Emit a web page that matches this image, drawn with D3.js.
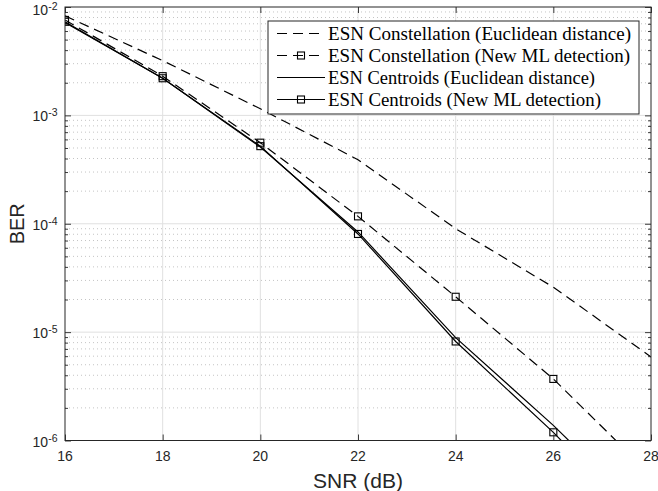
<!DOCTYPE html>
<html>
<head>
<meta charset="utf-8">
<script src="https://cdn.jsdelivr.net/npm/d3@7"></script>
<style>
  html, body { margin: 0; padding: 0; background: #fff; }
  svg { display: block; }
</style>
</head>
<body>
<svg id="chart" width="658" height="491"></svg>
<script>
// SNR points (dB) and BER curves for the four receivers
const snr = [16, 18, 20, 22, 24, 26, 28];
const berConstEuclid = [8.3e-3, 3.2e-3, 1.15e-3, 3.9e-4, 9.0e-5, 2.6e-5, 5.9e-6];
const berConstML     = [7.6e-3, 2.3e-3, 5.6e-4, 1.17e-4, 2.12e-5, 3.7e-6, 4.8e-7];
const berCentEuclid  = [7.2e-3, 2.2e-3, 5.1e-4, 8.4e-5, 8.9e-6, 1.38e-6, 1.8e-7];
const berCentML      = [7.3e-3, 2.2e-3, 5.2e-4, 8.05e-5, 8.2e-6, 1.19e-6, 1.4e-7];

const seriesNames = [
  "ESN Constellation (Euclidean distance)",
  "ESN Constellation (New ML detection)",
  "ESN Centroids (Euclidean distance)",
  "ESN Centroids (New ML detection)"
];
const xTicks = [16, 18, 20, 22, 24, 26, 28];
const yDecades = [-6, -5, -4, -3, -2];
const xLabel = "SNR (dB)";
const yLabel = "BER";

const series = [
  { name: seriesNames[0], values: berConstEuclid, dashed: true,  marker: false },
  { name: seriesNames[1], values: berConstML,     dashed: true,  marker: true  },
  { name: seriesNames[2], values: berCentEuclid,  dashed: false, marker: false },
  { name: seriesNames[3], values: berCentML,      dashed: false, marker: true  }
];

const svg = d3.select("#chart");
const L = 65, R = 651, T = 7, B = 440.5;
const x = d3.scaleLinear().domain([16, 28]).range([L, R]);
const y = d3.scaleLog().domain([1e-6, 1e-2]).range([B, T]);

const axisColor = "#262626";
const dashPattern = "10,6";

// grid
const grid = svg.append("g");
const minorVals = [];
for (let d = -6; d < -2; d++) {
  for (let k = 2; k <= 9; k++) minorVals.push(k * Math.pow(10, d));
}
grid.selectAll("line.minor").data(minorVals).join("line")
  .attr("x1", L).attr("x2", R)
  .attr("y1", d => y(d)).attr("y2", d => y(d))
  .attr("stroke", "#c4c4c4").attr("stroke-width", 1)
  .attr("stroke-dasharray", "1,3");
grid.selectAll("line.ymaj").data(yDecades.slice(1, -1)).join("line")
  .attr("x1", L).attr("x2", R)
  .attr("y1", d => y(Math.pow(10, d))).attr("y2", d => y(Math.pow(10, d)))
  .attr("stroke", "#e0e0e0").attr("stroke-width", 1);
grid.selectAll("line.xmaj").data(xTicks.slice(1, -1)).join("line")
  .attr("class", "xmaj")
  .attr("x1", d => x(d)).attr("x2", d => x(d))
  .attr("y1", T).attr("y2", B)
  .attr("stroke", "#e0e0e0").attr("stroke-width", 1);

// curves
svg.append("defs").append("clipPath").attr("id", "plotClip")
  .append("rect").attr("x", L).attr("y", T).attr("width", R - L).attr("height", B - T);
const plot = svg.append("g").attr("clip-path", "url(#plotClip)");
const line = d3.line().x(d => x(d[0])).y(d => y(d[1]));

series.forEach(s => {
  const pts = snr.map((v, i) => [v, s.values[i]]);
  plot.append("path")
    .datum(pts)
    .attr("d", line)
    .attr("fill", "none")
    .attr("stroke", "#000")
    .attr("stroke-width", 1.2)
    .attr("stroke-dasharray", s.dashed ? dashPattern : null);
  if (s.marker) {
    plot.selectAll(null).data(pts.filter(p => p[1] >= 1e-6)).join("rect")
      .attr("x", d => x(d[0]) - 3.5).attr("y", d => y(d[1]) - 3.5)
      .attr("width", 7).attr("height", 7)
      .attr("fill", "none").attr("stroke", "#000").attr("stroke-width", 1.1);
  }
});

// axes box with inward ticks
const axes = svg.append("g");
const xAxisB = d3.axisBottom(x).tickValues(xTicks).tickSize(-6).tickFormat("");
const xAxisT = d3.axisTop(x).tickValues(xTicks).tickSize(-6).tickFormat("");
axes.append("g").attr("transform", `translate(0,${B})`).call(xAxisB);
axes.append("g").attr("transform", `translate(0,${T})`).call(xAxisT);
const majorY = yDecades.map(d => Math.pow(10, d));
axes.append("g").attr("transform", `translate(${L},0)`)
  .call(d3.axisLeft(y).tickValues(majorY).tickSize(-6).tickFormat(""));
axes.append("g").attr("transform", `translate(${R},0)`)
  .call(d3.axisRight(y).tickValues(majorY).tickSize(-6).tickFormat(""));
axes.append("g").attr("transform", `translate(${L},0)`)
  .call(d3.axisLeft(y).tickValues(minorVals).tickSize(-3).tickFormat(""));
axes.append("g").attr("transform", `translate(${R},0)`)
  .call(d3.axisRight(y).tickValues(minorVals).tickSize(-3).tickFormat(""));
axes.selectAll(".domain").remove();
axes.selectAll("line").attr("stroke", axisColor).attr("stroke-width", 0.9);
axes.append("rect").attr("x", L).attr("y", T).attr("width", R - L).attr("height", B - T)
  .attr("fill", "none").attr("stroke", axisColor).attr("stroke-width", 1);

// tick labels
const font = "'Liberation Sans', Arial, Helvetica, sans-serif";
svg.append("g").selectAll("text").data(xTicks).join("text")
  .attr("x", d => x(d)).attr("y", 461)
  .attr("text-anchor", "middle")
  .attr("font-family", font).attr("font-size", 14).attr("fill", axisColor)
  .text(d => d);

// decade labels as 10^n; keep the topmost one inside the canvas
const yl = svg.append("g").selectAll("text").data(yDecades).join("text")
  .attr("y", d => Math.max(y(Math.pow(10, d)) + 6, 15))
  .attr("font-family", font).attr("font-size", 14).attr("fill", axisColor);
yl.append("tspan").text("10");
yl.append("tspan").attr("dy", -5).attr("font-size", 10.5).text(d => "-" + Math.abs(d));
yl.each(function () {
  const w = this.getComputedTextLength();
  d3.select(this).attr("x", 57.5 - w);
});

// axis titles
svg.append("text")
  .attr("x", (L + R) / 2).attr("y", 488)
  .attr("text-anchor", "middle")
  .attr("font-family", font).attr("font-size", 21).attr("fill", axisColor)
  .text(xLabel);
svg.append("text")
  .attr("transform", `translate(24,${(T + B) / 2}) rotate(-90)`)
  .attr("text-anchor", "middle")
  .attr("font-family", font).attr("font-size", 20).attr("fill", axisColor)
  .text(yLabel);

// legend
const lgX = 268, lgY = 21, lgW = 371, lgH = 93;
const leg = svg.append("g");
leg.append("rect").attr("x", lgX).attr("y", lgY).attr("width", lgW).attr("height", lgH)
  .attr("fill", "#fff").attr("stroke", axisColor).attr("stroke-width", 1);
const rowY = [33.5, 55.5, 77.5, 99.5];
const rowTextWidth = [303, 302, 267, 273];
const serif = "'Liberation Serif', 'Times New Roman', serif";
series.forEach((s, i) => {
  const g = leg.append("g");
  g.append("line")
    .attr("x1", 277).attr("x2", 325)
    .attr("y1", rowY[i]).attr("y2", rowY[i])
    .attr("stroke", "#000").attr("stroke-width", 1.2)
    .attr("stroke-dasharray", s.dashed ? dashPattern : null);
  if (s.marker) {
    g.append("rect").attr("x", 301 - 3.5).attr("y", rowY[i] - 3.5)
      .attr("width", 7).attr("height", 7)
      .attr("fill", "none").attr("stroke", "#000").attr("stroke-width", 1.1);
  }
  g.append("text")
    .attr("x", 328).attr("y", rowY[i] + 6)
    .attr("font-family", serif).attr("font-size", 19).attr("fill", "#000")
    .attr("textLength", rowTextWidth[i]).attr("lengthAdjust", "spacingAndGlyphs")
    .text(s.name);
});
</script>
</body>
</html>
